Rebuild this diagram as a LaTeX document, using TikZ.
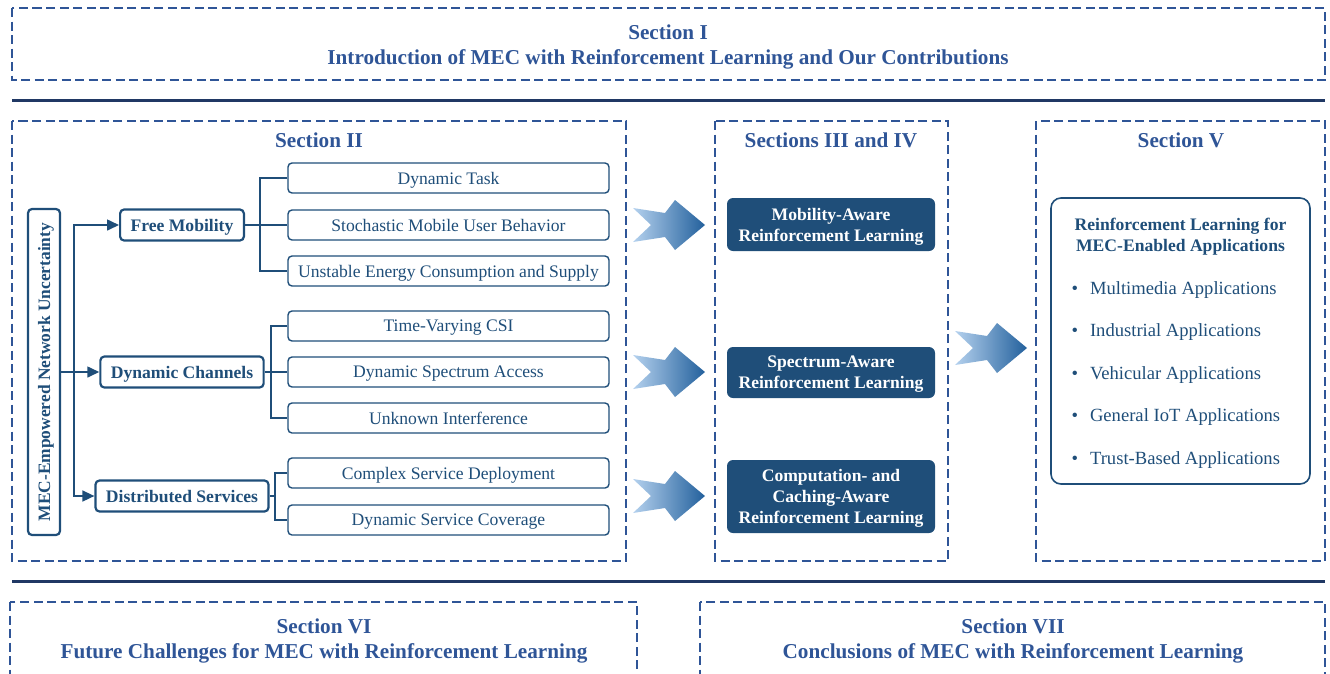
\documentclass[tikz,border=0pt]{standalone}
\usepackage{fontspec}
\setmainfont{Liberation Serif}
\usetikzlibrary{arrows.meta}
\definecolor{secblue}{HTML}{2F5597}
\definecolor{navy}{HTML}{1F4E79}
\definecolor{rulecol}{HTML}{203864}
\definecolor{arrowlight}{HTML}{B4D1EE}
\definecolor{arrowmid}{HTML}{2E75B6}
\definecolor{arrowdark}{HTML}{23609C}
\tikzset{
  secbox/.style={draw=secblue,line width=1.8pt,dash pattern=on 9pt off 4.5pt},
  sectitle/.style={text=secblue,font=\fontsize{21.2}{25}\selectfont\bfseries,align=center,text depth=0pt},
  catbox/.style={draw=navy,line width=2.2pt,rounded corners=4pt,fill=white,text=navy,font=\fontsize{17.6}{21}\selectfont\bfseries,minimum height=31pt,inner xsep=10.5pt,text depth=0pt},
  leafbox/.style={draw=navy,line width=1.4pt,rounded corners=4pt,text=navy,font=\fontsize{17.6}{21}\selectfont,minimum width=321pt,minimum height=30pt,text depth=0pt},
  rlbox/.style={fill=navy,rounded corners=6pt,text=white,font=\fontsize{17.6}{21}\selectfont\bfseries,align=center,minimum width=208pt,text depth=0pt},
  link/.style={draw=navy,line width=1.6pt},
  tip/.style={link,-{Triangle[length=12pt,width=11pt]}},
  fatarrow/.pic={\shade[left color=arrowlight,middle color=arrowmid,right color=arrowdark]
    (-36,-17) -- (-4,-12) -- (6,-25) -- (36,0) -- (6,25) -- (-4,12) -- (-36,17) -- (-18,0) -- cycle;}
}
\begin{document}
\begin{tikzpicture}[x=1pt,y=-1pt]
  \clip (0,0) rectangle (1330,673);
  % section frames
  \draw[secbox] (12,8) rectangle (1325,80);
  \draw[secbox] (12,121) rectangle (626,561);
  \draw[secbox] (715,121) rectangle (948,561);
  \draw[secbox] (1036,121) rectangle (1325,561);
  \draw[secbox] (10,602) rectangle (637,700);
  \draw[secbox] (700,602) rectangle (1325,700);
  \draw[rulecol,line width=3pt] (12,100) -- (1325,100);
  \draw[rulecol,line width=3pt] (12,581) -- (1325,581);
  \node[sectitle] (sec1) at (668,44.5) {Section I\\Introduction of MEC with Reinforcement Learning and Our Contributions};
  \node[sectitle] (sec2) at (319,140) {Section II};
  \node[sectitle] (sec34) at (831,140) {Sections III and IV};
  \node[sectitle] (sec5) at (1181,140) {Section V};
  \node[sectitle] (sec6) at (324,638.5) {Section VI\\Future Challenges for MEC with Reinforcement Learning};
  \node[sectitle] (sec7) at (1013,638.5) {Section VII\\Conclusions of MEC with Reinforcement Learning};

  % section II tree
  \node[catbox,rotate=90,minimum width=326pt,minimum height=32pt,inner xsep=2pt,font=\fontsize{17.4}{21}\selectfont\bfseries] (unc) at (44,372) {MEC-Empowered Network Uncertainty};
  \coordinate (trunk) at (74,372);
  \node[catbox] (fm) at (182,225) {Free Mobility};
  \node[catbox] (dc) at (182,372) {Dynamic Channels};
  \node[catbox] (ds) at (182,496) {Distributed Services};
  \foreach \n/\y/\t in {l1/178/Dynamic Task, l2/225/Stochastic Mobile User Behavior,
      l3/271/Unstable Energy Consumption and Supply, l4/326/Time-Varying CSI,
      l5/372/Dynamic Spectrum Access, l6/418/Unknown Interference,
      l7/473/Complex Service Deployment, l8/520/Dynamic Service Coverage}
    \node[leafbox] (\n) at (448.5,\y) {\t};
  \draw[tip] (unc.south) -- (dc.west);
  \draw[tip] (trunk |- ds.west) |- (fm.west);
  \draw[tip] (trunk) |- (ds.west);
  \coordinate (fmbus) at (260,225);
  \coordinate (dcbus) at (271,372);
  \coordinate (dsbus) at (275,496);
  \draw[link] (l1.west) -| (fmbus) |- (l3.west);
  \draw[link] (fm.east) -- (l2.west);
  \draw[link] (l4.west) -| (dcbus) |- (l6.west);
  \draw[link] (dc.east) -- (l5.west);
  \draw[link] (l7.west) -| (dsbus) |- (l8.west);
  \draw[link] (ds.east) -- (dsbus);

  % sections III and IV
  \pic at (669,225) {fatarrow};
  \pic at (669,372) {fatarrow};
  \pic at (669,496) {fatarrow};
  \node[rlbox,minimum height=53pt] (mob) at (831,224.5) {Mobility-Aware\\Reinforcement Learning};
  \node[rlbox,minimum height=51pt] (spec) at (831,372.5) {Spectrum-Aware\\Reinforcement Learning};
  \node[rlbox,minimum height=73pt] (comp) at (831,496.5) {Computation- and\\Caching-Aware\\Reinforcement Learning};

  % section V
  \pic at (991,348) {fatarrow};
  \node[draw=navy,line width=1.6pt,rounded corners=10pt,minimum width=259pt,minimum height=286pt] (apps) at (1180.5,341) {};
  \node[text=navy,font=\fontsize{17.6}{21}\selectfont\bfseries,align=center,text depth=0pt] (appstitle) at (1180.5,234.5) {Reinforcement Learning for\\MEC-Enabled Applications};
  \foreach \n/\y/\t in {a1/288/Multimedia Applications, a2/330.5/Industrial Applications,
      a3/373/Vehicular Applications, a4/415.5/General IoT Applications, a5/458/Trust-Based Applications}
    \node[text=navy,font=\fontsize{18.6}{22}\selectfont,anchor=west,text depth=0pt] (\n) at (1068,\y) {\textbullet\hspace{12pt}\t};
\end{tikzpicture}
\end{document}
